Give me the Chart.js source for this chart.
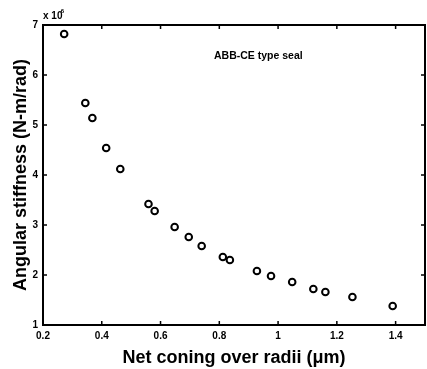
<!DOCTYPE html>
<html>
<head>
<meta charset="utf-8">
<script src="https://cdn.jsdelivr.net/npm/chart.js@4"></script>
<style>
  html, body { margin: 0; padding: 0; background: #fff; }
  #wrap { width: 427px; height: 369px; }
</style>
</head>
<body>
<div id="wrap"><canvas id="canvas-1" width="427" height="369"></canvas></div>
<script>
// values (stiffness in units of 1e6 N-m/rad)
const coning = [0.272, 0.344, 0.368, 0.415, 0.463, 0.559, 0.580, 0.648, 0.696, 0.740,
  0.812, 0.836, 0.928, 0.976, 1.048, 1.120, 1.161, 1.253, 1.390];
const stiffness = [6.82, 5.44, 5.14, 4.54, 4.12, 3.42, 3.28, 2.96, 2.76, 2.58,
  2.36, 2.30, 2.08, 1.98, 1.86, 1.72, 1.66, 1.56, 1.38];
const xTicks = [0.2, 0.4, 0.6, 0.8, 1, 1.2, 1.4];
const yTicks = [1, 2, 3, 4, 5, 6, 7];

const FONT = 'Liberation Sans, Arial, sans-serif';

// MATLAB-like frame: box all round with inward ticks, plus annotations
const framePlugin = {
  id: 'frame',
  afterDraw(chart) {
    const { ctx, chartArea: a, scales } = chart;
    const len = 4;
    ctx.save();
    ctx.strokeStyle = '#000';
    ctx.lineWidth = 2;
    ctx.strokeRect(a.left, a.top, a.right - a.left, a.bottom - a.top);
    ctx.lineWidth = 1.5;
    ctx.beginPath();
    xTicks.forEach(v => {
      const x = scales.x.getPixelForValue(v);
      ctx.moveTo(x, a.bottom); ctx.lineTo(x, a.bottom - len);
      ctx.moveTo(x, a.top); ctx.lineTo(x, a.top + len);
    });
    yTicks.forEach(v => {
      const y = scales.y.getPixelForValue(v);
      ctx.moveTo(a.left, y); ctx.lineTo(a.left + len, y);
      ctx.moveTo(a.right, y); ctx.lineTo(a.right - len, y);
    });
    ctx.stroke();

    // exponent label
    ctx.fillStyle = '#000';
    ctx.textBaseline = 'alphabetic';
    ctx.textAlign = 'left';
    ctx.font = 'bold 10px ' + FONT;
    ctx.fillText('x 10', a.left, a.top - 6);
    ctx.font = 'bold 6px ' + FONT;
    ctx.fillText('6', a.left + ctx.measureText('x 10').width + 6, a.top - 12);

    // annotation
    ctx.font = 'bold 10.5px ' + FONT;
    ctx.fillText('ABB-CE type seal', 214, 59);
    ctx.restore();
  }
};

// eslint-disable-next-line no-unused-vars
const scatterChart = new Chart(document.getElementById('canvas-1'), {
  type: 'scatter',
  data: {
    datasets: [{
      label: 'ABB-CE type seal',
      data: coning.map((x, i) => ({ x: x, y: stiffness[i] })),
      pointRadius: 3.3,
      pointBorderWidth: 2,
      pointBorderColor: '#000',
      pointBackgroundColor: 'rgba(0,0,0,0)'
    }]
  },
  options: {
    responsive: false,
    animation: false,
    layout: { autoPadding: false, padding: { top: 25, right: 2, left: 10, bottom: 0 } },
    plugins: {
      legend: { display: false },
      tooltip: { enabled: false }
    },
    scales: {
      x: {
        type: 'linear',
        min: 0.2,
        max: 1.5,
        afterBuildTicks: s => { s.ticks = xTicks.map(v => ({ value: v })); },
        afterFit: s => { s.height = 44; s.paddingLeft = 0; s.paddingRight = 0; },
        grid: { display: false, drawTicks: false, tickLength: 0 },
        border: { display: false },
        ticks: {
          color: '#000',
          padding: 5,
          font: { family: FONT, size: 10, weight: 'bold' },
          maxRotation: 0,
          callback: v => String(v)
        },
        title: {
          display: true,
          text: 'Net coning over radii (\u03bcm)',
          color: '#000',
          padding: { top: 0, bottom: 0 },
          font: { family: FONT, size: 18, weight: 'bold' }
        }
      },
      y: {
        type: 'linear',
        min: 1,
        max: 7,
        afterBuildTicks: s => { s.ticks = yTicks.map(v => ({ value: v })); },
        afterFit: s => { s.width = 33; s.paddingTop = 0; s.paddingBottom = 0; },
        grid: { display: false, drawTicks: false, tickLength: 0 },
        border: { display: false },
        ticks: {
          color: '#000',
          padding: 5,
          font: { family: FONT, size: 10, weight: 'bold' }
        },
        title: {
          display: true,
          text: 'Angular stiffness (N-m/rad)',
          color: '#000',
          padding: { top: 0, bottom: 0 },
          font: { family: FONT, size: 18, weight: 'bold' }
        }
      }
    }
  },
  plugins: [framePlugin]
});
</script>
</body>
</html>
